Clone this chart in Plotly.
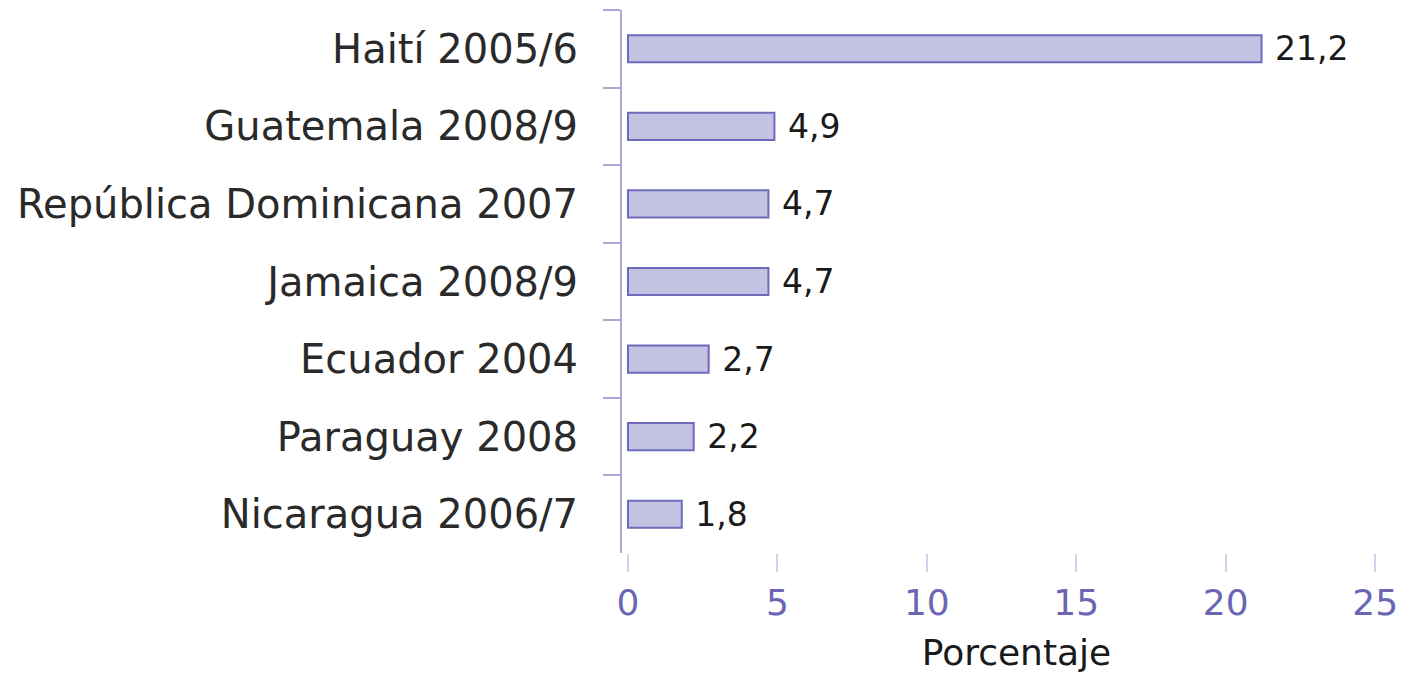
import plotly.graph_objects as go

categories = ["Haití 2005/6", "Guatemala 2008/9", "República Dominicana 2007",
              "Jamaica 2008/9", "Ecuador 2004", "Paraguay 2008", "Nicaragua 2006/7"]
values = [21.2, 4.9, 4.7, 4.7, 2.7, 2.2, 1.8]
x_ticks = [0, 5, 10, 15, 20, 25]
x_title = "Porcentaje"

labels = ["\u00a0" + f"{v:.1f}".replace(".", ",") for v in values]

FONT = "DejaVu Sans"
# page body has an 8px margin, so the figure is 8px smaller and shifted
fig = go.Figure(go.Bar(
    x=values, y=categories, orientation="h",
    marker=dict(color="#c4c2e2", line=dict(color="#6e6bbb", width=2)),
    text=labels, textposition="outside", cliponaxis=False, constraintext="none",
    textfont=dict(family=FONT, size=33, color="#1a1a1a"),
))

fig.update_layout(
    width=1419, height=665,
    margin=dict(l=614, r=16, t=2, b=120, autoexpand=False),
    paper_bgcolor="white", plot_bgcolor="white",
    bargap=0.65, showlegend=False,
    separators=",.",
)
fig.update_xaxes(
    range=[-0.2, 26.2], tickvals=x_ticks, showgrid=False, zeroline=False,
    showline=False, ticks="outside", ticklen=18, tickwidth=2, tickcolor="#d2d0ea",
    tickfont=dict(family=FONT, size=36, color="#6a66b3"),
    title=dict(text=x_title, font=dict(family=FONT, size=36, color="#1a1a1a"), standoff=18),
)
fig.update_yaxes(
    autorange="reversed", showgrid=False, zeroline=False,
    showline=True, linecolor="#a9a6d8", linewidth=2,
    ticks="outside", tickson="boundaries", ticklen=17, tickwidth=2, tickcolor="#a9a6d8",
    ticklabelstandoff=34,
    tickfont=dict(family=FONT, size=40, color="#2a2a2a"),
)

fig.write_html("out.html")
